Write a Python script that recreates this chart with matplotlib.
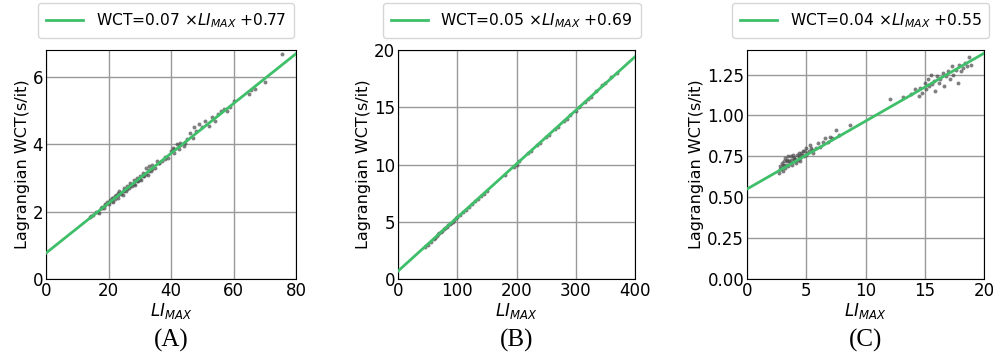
import matplotlib

matplotlib.use("Agg")
import matplotlib.pyplot as plt

# (A)
A_X = [14, 14.5, 15, 16, 16.5, 17, 17.5, 18, 18.5, 19, 19.5, 20, 20.5, 21, 21.5, 22,
       22.5, 23, 23.5, 24, 24.5, 25, 25.5, 26, 26.5, 27, 27.5, 28, 28.5, 29, 29.5,
       30, 30.5, 31, 31.5, 32, 32.5, 33, 33.5, 34, 35, 35.5, 36, 37, 38, 39, 40,
       40.5, 41, 42, 42.5, 43, 44, 45, 46, 47, 47.5, 48, 49, 50, 51, 52, 53, 54,
       55, 56, 57, 58, 59, 60, 65, 65.5, 67, 70, 75.5,
       20, 21, 22, 23, 24, 25, 26, 27, 28, 29, 30, 31, 32, 33, 34,
       18, 19, 21.5, 23, 25, 27, 29, 31, 33, 36, 38, 41, 43, 44.5]
A_Y = [1.85, 1.88, 1.9, 2.0, 1.98, 1.95, 2.1, 2.15, 2.12, 2.2, 2.3, 2.28, 2.35, 2.4,
       2.3, 2.45, 2.5, 2.42, 2.6, 2.55, 2.5, 2.7, 2.6, 2.75, 2.7, 2.85, 2.75, 2.95,
       2.8, 3.0, 2.9, 3.05, 2.95, 3.15, 3.05, 3.3, 3.1, 3.35, 3.2, 3.4, 3.3, 3.5,
       3.45, 3.5, 3.62, 3.6, 3.8, 3.9, 3.75, 4.0, 3.85, 4.05, 3.95, 4.15, 4.35, 4.2,
       4.5, 4.4, 4.6, 4.5, 4.7, 4.55, 4.8, 4.7, 4.9, 5.0, 5.05, 5.0, 5.1, 5.3, 5.5,
       5.62, 5.65, 5.85, 6.68,
       2.22, 2.33, 2.38, 2.5, 2.52, 2.6, 2.68, 2.75, 2.82, 2.9, 2.97, 3.05, 3.12,
       3.22, 3.27,
       2.1, 2.22, 2.42, 2.55, 2.65, 2.8, 2.95, 3.1, 3.25, 3.45, 3.55, 3.85, 3.98, 4.05]
A_FIT = (0.074, 0.77)

# (B)
B_X = [45, 50, 55, 60, 62, 65, 68, 70, 72, 75, 78, 80, 82, 85, 88, 90, 92, 95, 98,
       100, 105, 110, 115, 120, 125, 130, 135, 140, 145, 150, 180, 195, 200, 205,
       220, 225, 235, 240, 250, 255, 265, 270, 280, 285, 290, 300, 305, 315, 320,
       325, 335, 345, 350, 360, 370]
B_Y = [2.8, 3.0, 3.25, 3.5, 3.6, 3.75, 3.9, 4.0, 4.1, 4.2, 4.35, 4.45, 4.55, 4.7,
       4.8, 4.9, 5.0, 5.15, 5.3, 5.4, 5.6, 5.85, 6.05, 6.3, 6.55, 6.8, 7.0, 7.25,
       7.45, 7.7, 9.1, 9.8, 10.0, 10.3, 11.0, 11.2, 11.7, 11.9, 12.4, 12.6, 13.1,
       13.3, 13.8, 14.0, 14.3, 14.7, 15.0, 15.5, 15.7, 15.9, 16.4, 16.9, 17.1,
       17.6, 18.0]
B_FIT = (0.0468, 0.69)

# (C)
C_X = [2.7, 2.8, 2.9, 3.0, 3.0, 3.1, 3.2, 3.2, 3.3, 3.4, 3.5, 3.5, 3.6, 3.7, 3.8,
       3.9, 4.0, 4.0, 4.1, 4.2, 4.3, 4.4, 4.5, 4.5, 4.6, 4.7, 4.8, 5.0, 5.0, 5.2,
       5.3, 5.5, 5.6, 5.8, 6.0, 6.2, 6.4, 6.6, 6.8, 7.0, 7.2, 7.5, 7.8, 8.7,
       2.75, 2.95, 3.15, 3.35, 3.55, 3.75, 3.95, 4.15, 4.35, 4.55, 4.85, 5.1, 5.4,
       12.1, 13.2, 13.8,
       14.2, 14.5, 14.6, 14.8, 15.0, 15.1, 15.3, 15.4, 15.5, 15.6, 15.8, 15.9,
       16.0, 16.2, 16.3, 16.5, 16.6, 16.8, 17.0, 17.1, 17.3, 17.4, 17.6, 17.8,
       17.9, 18.1, 18.2, 18.4, 18.6, 18.7, 18.9]
C_Y = [0.65, 0.69, 0.67, 0.70, 0.66, 0.72, 0.68, 0.74, 0.70, 0.72, 0.69, 0.75,
       0.71, 0.73, 0.70, 0.76, 0.72, 0.74, 0.71, 0.76, 0.73, 0.77, 0.74, 0.72,
       0.76, 0.78, 0.75, 0.80, 0.76, 0.78, 0.82, 0.79, 0.77, 0.80, 0.83, 0.81,
       0.84, 0.86, 0.84, 0.87, 0.86, 0.91, 0.88, 0.94,
       0.67, 0.71, 0.69, 0.73, 0.72, 0.75, 0.74, 0.73, 0.75, 0.77, 0.78, 0.77, 0.8,
       1.10, 1.11, 1.13,
       1.16, 1.12, 1.17, 1.14, 1.20, 1.16, 1.22, 1.18, 1.25, 1.19, 1.21, 1.15,
       1.24, 1.20, 1.22, 1.26, 1.18, 1.24, 1.27, 1.22, 1.30, 1.25, 1.28, 1.20,
       1.31, 1.27, 1.29, 1.32, 1.30, 1.36, 1.31]
C_FIT = (0.0415, 0.55)

PANELS = [
    ("(A)", A_X, A_Y, A_FIT, "0.07", "0.77", (0, 80), (0, 6.8), [0, 20, 40, 60, 80], [0, 2, 4, 6]),
    ("(B)", B_X, B_Y, B_FIT, "0.05", "0.69", (0, 400), (0, 20), [0, 100, 200, 300, 400], [0, 5, 10, 15, 20]),
    ("(C)", C_X, C_Y, C_FIT, "0.04", "0.55", (0, 20), (0, 1.4), [0, 5, 10, 15, 20],
     [0.0, 0.25, 0.5, 0.75, 1.0, 1.25]),
]

LEFTS = [46 / 993, 398 / 993, 747 / 993]
WIDTHS = [250 / 993, 237 / 993, 237 / 993]
GREEN = "#3fbf6a"

fig = plt.figure(figsize=(9.93, 3.56), dpi=100)

for (tag, xs, ys, fit, a_txt, b_txt, xlim, ylim, xt, yt), left, w in zip(PANELS, LEFTS, WIDTHS):
    ax = fig.add_axes([left, 77 / 356, w, 229 / 356])
    ax.scatter(xs, ys, s=8, color="#4a4a4a", alpha=0.7, linewidths=0, zorder=3)
    k, b = fit
    ax.plot(list(xlim), [k * xlim[0] + b, k * xlim[1] + b], color=GREEN, lw=2, zorder=4,
            label=r"WCT=%s $\times LI_{MAX}$ +%s" % (a_txt, b_txt))
    ax.set_xlim(*xlim)
    ax.set_ylim(*ylim)
    ax.set_xticks(xt)
    ax.set_yticks(yt)
    if tag == "(C)":
        ax.set_yticklabels(["%.2f" % v for v in yt])
    ax.grid(True, color="#999999", lw=1, zorder=0)
    ax.set_axisbelow(True)
    ax.tick_params(length=0, pad=2, labelsize=12)
    ax.set_xlabel(r"$LI_{MAX}$", fontsize=12, labelpad=1)
    ax.set_ylabel("Lagrangian WCT(s/it)", fontsize=11.5, labelpad=2)
    ax.legend(loc="lower center", bbox_to_anchor=(0.48, 1.02), fontsize=11.2,
              handlelength=2.4, borderpad=0.5, frameon=True)
    ax.text(0.5, -0.27, tag, transform=ax.transAxes, ha="center", va="center",
            fontsize=18, family="Liberation Serif")

fig.savefig("out.png", dpi=100)
